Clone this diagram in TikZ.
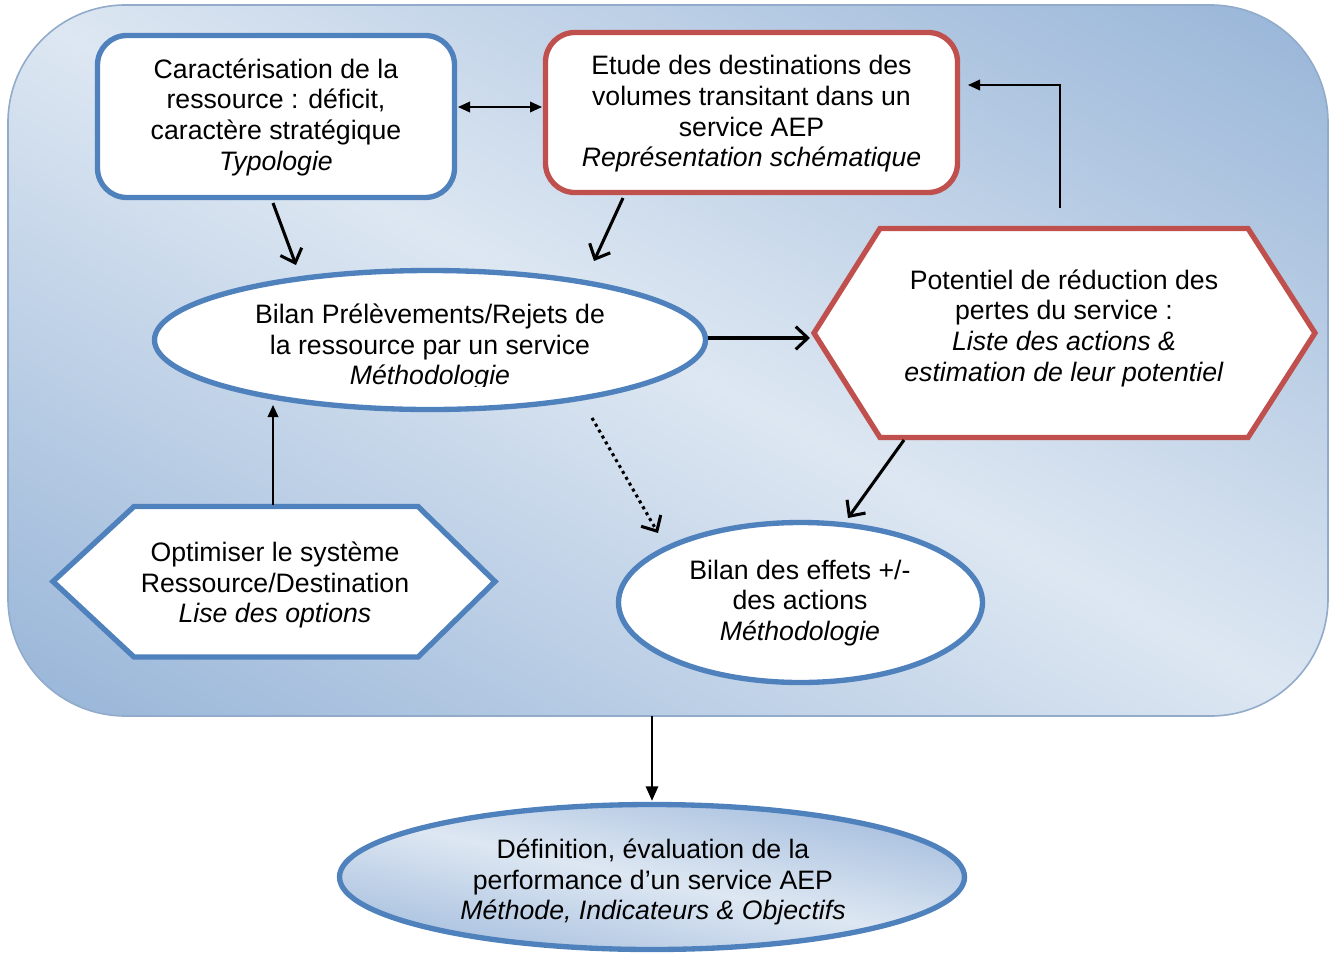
\documentclass[tikz,border=0pt]{standalone}
\usepackage{fontspec}
\setmainfont{Liberation Sans}
\usetikzlibrary{arrows.meta,shapes.geometric}
\definecolor{bline}{RGB}{79,129,189}
\definecolor{rline}{RGB}{192,80,77}
\definecolor{bgdark}{RGB}{149,179,215}
\definecolor{bglight}{RGB}{221,231,242}
\definecolor{elldark}{RGB}{160,186,220}
\begin{document}
\begin{tikzpicture}[x=0.75pt,y=-0.75pt,
  txt/.style={align=center,font=\fontsize{20}{23}\selectfont,inner sep=0pt},
  bluebox/.style={draw=bline,line width=4pt,fill=white,rounded corners=22pt,inner sep=0pt},
  redbox/.style={draw=rline,line width=4pt,fill=white,rounded corners=22pt,inner sep=0pt},
  blueell/.style={ellipse,draw=bline,line width=4pt,fill=white,inner sep=0pt},
  hexred/.style={draw=rline,line width=4pt,fill=white},
  hexblue/.style={draw=bline,line width=4pt,fill=white},
  thick arrow/.style={line width=2.3pt,-{Straight Barb[length=9pt,width=17pt,line width=2.3pt]}},
  thin arrow/.style={line width=1.1pt,-{Triangle[length=9pt,width=8pt]}},
  mid arrow/.style={line width=2.2pt,-{Triangle[length=11pt,width=9pt]}},
  diagshade/.style={top color=bgdark,bottom color=bgdark,middle color=bglight},
]
\useasboundingbox (0,0) rectangle (1335,953);

% background panel
\begin{scope}
  \clip[rounded corners=88pt] (8,5) -- (1328,5) -- (1328,716) -- (8,716) -- cycle;
  \begin{scope}[transform canvas={rotate around={-28.3:(668,360)}}]
    \shade[diagshade] (-250,-280) rectangle (1590,1000);
  \end{scope}
\end{scope}
\draw[bgdark!85!gray,line width=1.2pt,rounded corners=88pt]
  (8,5) -- (1328,5) -- (1328,716) -- (8,716) -- cycle;
\coordinate (panelbottom) at (652,716);

% top boxes
\node[bluebox,minimum width=267.75pt,minimum height=121.5pt] (carac) at (276,116.5) {};
\node[txt] (caractxt) at (276,117) {Caractérisation de la\\ressource : déficit,\\caractère stratégique\\\textit{Typologie}};

\node[redbox,minimum width=309pt,minimum height=120pt] (etude) at (751.5,112.5) {};
\node[txt] (etudetxt) at (751.5,114) {Etude des destinations des\\volumes transitant dans un\\service AEP\\\textit{Représentation schématique}};

% ellipse bilan
\node[blueell,minimum width=413.25pt,minimum height=104.25pt] (bilan) at (430,340) {};
\begin{scope}
  \clip (150,280) rectangle (710,386);
  \node[txt] (bilantxt) at (430,347) {Bilan Prélèvements/Rejets de\\la ressource par un service\\\textit{Méthodologie}};
\end{scope}

% hexagon potentiel
\coordinate (potL) at (814,333);
\coordinate (potTL) at (880,228.5);
\coordinate (potTR) at (1248,228.5);
\coordinate (potR) at (1315,333);
\coordinate (potBR) at (1248,437.5);
\coordinate (potBL) at (880,437.5);
\draw[hexred] (potL) -- (potTL) -- (potTR) -- (potR) -- (potBR) -- (potBL) -- cycle;
\node[txt] (pot) at (1064,328) {Potentiel de réduction des\\pertes du service :\\\textit{Liste des actions \&}\\\textit{estimation de leur potentiel}};

% hexagon optimiser
\coordinate (optL) at (53,581.5);
\coordinate (optTL) at (134,506.5);
\coordinate (optTR) at (418,506.5);
\coordinate (optR) at (495,581.5);
\coordinate (optBR) at (418,657);
\coordinate (optBL) at (134,657);
\draw[hexblue] (optL) -- (optTL) -- (optTR) -- (optR) -- (optBR) -- (optBL) -- cycle;
\node[txt] (opt) at (275,585) {Optimiser le système\\Ressource/Destination\\\textit{Lise des options}};

% ellipse effets
\node[blueell,minimum width=273pt,minimum height=120pt] (effets) at (800.5,602.5) {};
\node[txt] (effetstxt) at (800,603) {Bilan des effets +/-\\des actions\\\textit{Méthodologie}};

% bottom ellipse
\begin{scope}
  \clip (652,877) ellipse [x radius=312.5,y radius=72.5];
  \begin{scope}[transform canvas={rotate around={-12:(560,860)}}]
    \shade[top color=elldark,bottom color=elldark,middle color=bglight] (100,735) rectangle (1100,985);
  \end{scope}
\end{scope}
\node[ellipse,draw=bline,line width=4pt,inner sep=0pt,
  minimum width=468.75pt,minimum height=108.75pt] (perf) at (652,877) {};
\node[txt] (perftxt) at (653,882) {Définition, évaluation de la\\performance d’un service AEP\\\textit{Méthode, Indicateurs \& Objectifs}};

% connector end points
\coordinate (a1s) at (273,203);
\coordinate (a1e) at (296,265);
\coordinate (a2s) at (623,198);
\coordinate (a2e) at (594,261);
\coordinate (a3s) at (708,338);
\coordinate (a3e) at (810,338);
\coordinate (a4s) at (904,440);
\coordinate (a4e) at (848,518);
\coordinate (a5s) at (592,418);
\coordinate (a5e) at (658,533);
\coordinate (a6s) at (458,107);
\coordinate (a6e) at (542,107);
\coordinate (a7s) at (1060,208);
\coordinate (a7e) at (968,85);
\coordinate (a8s) at (273,505);
\coordinate (a8e) at (273,405);
\coordinate (a9e) at (652,801);

% connectors
\draw[thick arrow] (a1s) -- (a1e);
\draw[thick arrow] (a2s) -- (a2e);
\draw[thick arrow] (a3s) -- (a3e);
\draw[thick arrow] (a4s) -- (a4e);
\draw[line width=2.3pt,dash pattern=on 2.3pt off 2.8pt,-{Straight Barb[length=9pt,width=17pt,line width=2.3pt]}] (a5s) -- (a5e);
\draw[line width=1.1pt,{Triangle[length=9pt,width=8pt]}-{Triangle[length=9pt,width=8pt]}] (a6s) -- (a6e);
\draw[thin arrow] (a7s) |- (a7e);
\draw[thin arrow] (a8s) -- (a8e);
\draw[mid arrow] (panelbottom) -- (a9e);
\end{tikzpicture}
\end{document}
